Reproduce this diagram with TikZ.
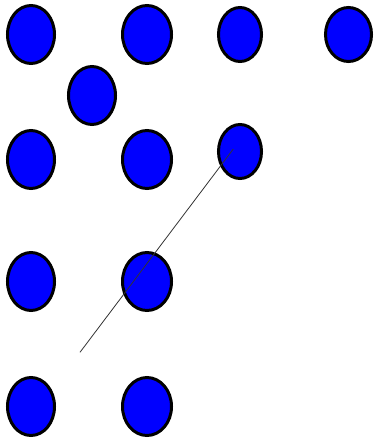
\documentclass[tikz,border=0pt]{standalone}
\usetikzlibrary{shapes.geometric}
\begin{document}
\begin{tikzpicture}[x=1pt,y=-1pt,
  dot/.style={ellipse,draw=black,fill=blue,line width=3pt,inner sep=0pt,minimum width=47pt,minimum height=58pt},
  dotwide/.style={dot,minimum width=49pt},
  dotsmall/.style={dot,minimum width=43pt,minimum height=54pt},
  link/.style={draw=black!80,line width=0.8pt}]
\useasboundingbox (0,0) rectangle (374,439);
\node[dot] (a1) at (31,34.5) {};
\node[dotwide] (b1) at (147,34.5) {};
\node[dotsmall] (c1) at (240,34.5) {};
\node[dotsmall,minimum width=46pt] (d1) at (348.5,34.5) {};
\node[dot] (e1) at (92,95.5) {};
\node[dot] (a2) at (31,159.5) {};
\node[dotwide] (b2) at (147,159.5) {};
\node[dotsmall] (c2) at (240,151.5) {};
\node[dot] (a3) at (31,281.5) {};
\node[dotwide] (b3) at (147,281.5) {};
\node[dot] (a4) at (31,406.5) {};
\node[dotwide] (b4) at (147,406.5) {};
\coordinate (p) at (80,352.3);
\coordinate (q) at (233.3,149);
\draw[link] (p) -- (q);
\end{tikzpicture}
\end{document}
